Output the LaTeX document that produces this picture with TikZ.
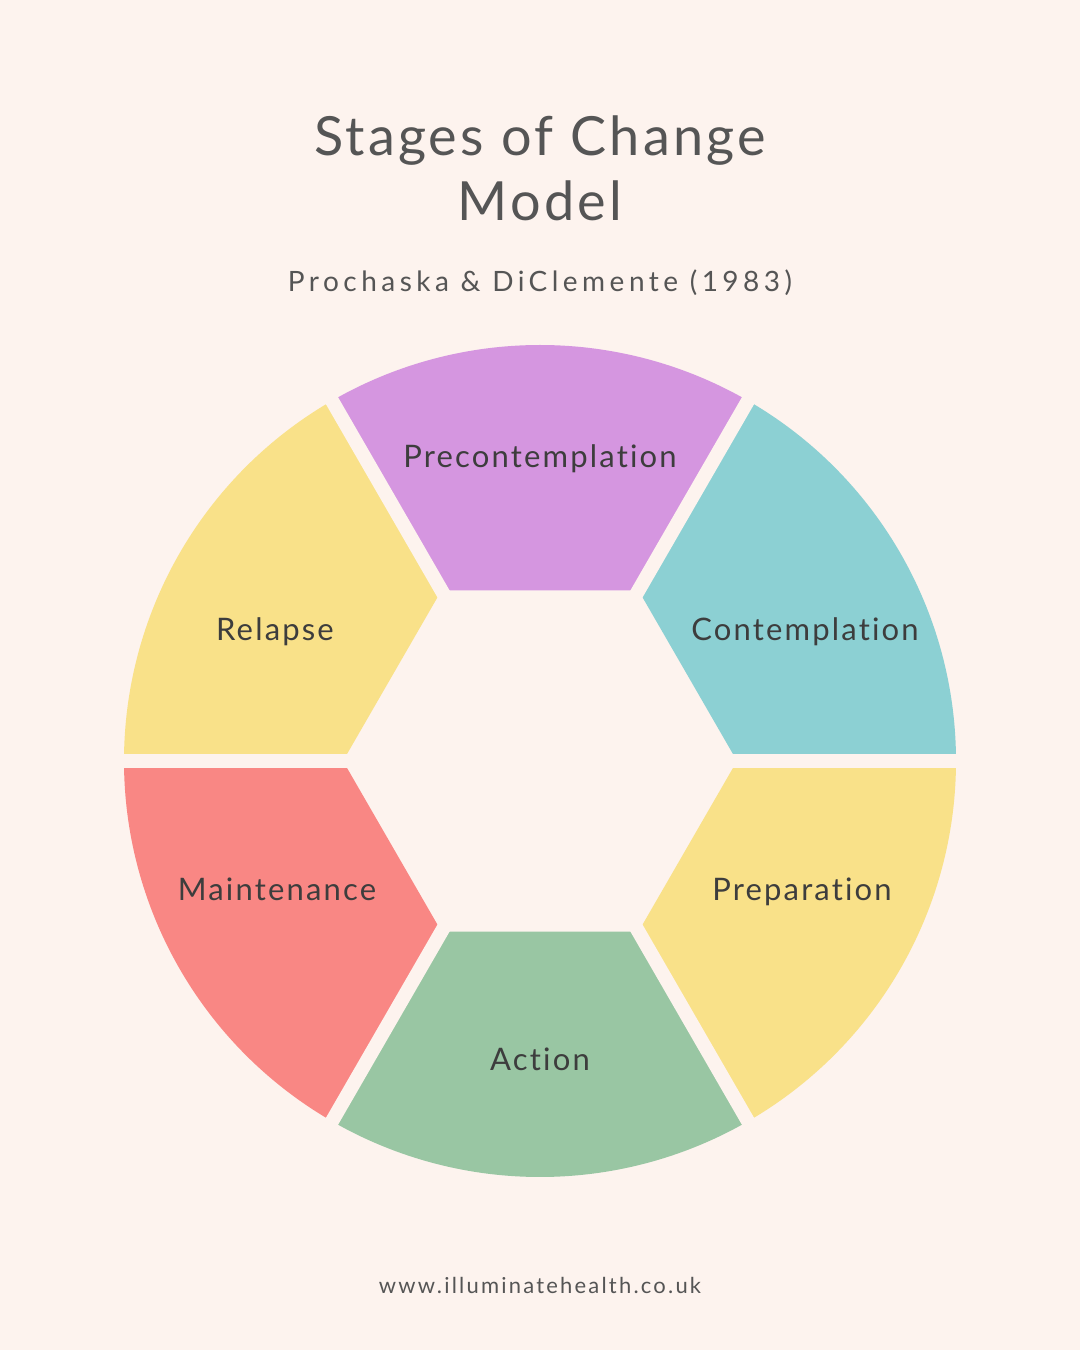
\documentclass[tikz,border=0pt]{standalone}
\usepackage{fontspec}
\usetikzlibrary{calc}
\setmainfont{Lato}
\newfontfamily\titlefont[LetterSpace=6,Ligatures={CommonOff,RareOff}]{Lato}
\newfontfamily\subfont[LetterSpace=16,Ligatures={CommonOff,RareOff}]{Lato}
\newfontfamily\webfont[LetterSpace=10,Ligatures={CommonOff,RareOff}]{Lato}
\newfontfamily\labfont[LetterSpace=7,Ligatures={CommonOff,RareOff}]{Lato}
\definecolor{bg}{HTML}{FDF3EE}
\definecolor{cpurple}{HTML}{D596E0}
\definecolor{cteal}{HTML}{8CD0D3}
\definecolor{cyellow}{HTML}{F9E189}
\definecolor{cred}{HTML}{F98784}
\definecolor{cgreen}{HTML}{99C6A3}
\definecolor{txt}{HTML}{3D3D3D}
\definecolor{ttl}{HTML}{555555}
\begin{document}
\begin{tikzpicture}[x=1pt,y=1pt,
  lab/.style={text=txt,font=\labfont\fontsize{31}{35}\selectfont,anchor=base,inner sep=0pt},
  ttlstyle/.style={text=ttl,font=\titlefont\fontsize{54}{60}\selectfont,anchor=base,inner sep=0pt},
  gapline/.style={draw=bg,line width=14pt}]
\fill[bg] (0,0) rectangle (1080,1350);
\useasboundingbox (0,0) rectangle (1080,1350);
\coordinate (c) at (540,589);
\def\rin{197}
\def\rout{416}
\foreach \a/\b/\col in {60/120/cpurple,0/60/cteal,-60/0/cyellow,240/300/cgreen,180/240/cred,120/180/cyellow}{
  \fill[\col] ($(c)+(\a:\rin)$) -- ($(c)+(\a:\rout)$) arc[start angle=\a,end angle=\b,radius=\rout] -- ($(c)+(\b:\rin)$) -- cycle;
}
\foreach \a in {0,60,...,300}{
  \draw[gapline] (c) -- ++(\a:430);
}
\node[lab] (pre) at (540,882) {Precontemplation};
\node[lab] (con) at (805,709) {Contemplation};
\node[lab] (rel) at (275,709) {Relapse};
\node[lab] (mai) at (277,449) {Maintenance};
\node[lab] (prep) at (802,449) {Preparation};
\node[lab] (act) at (540,279) {Action};
\node[ttlstyle] (t1) at (540,1194) {Stages of Change};
\node[ttlstyle] (t2) at (540,1129) {Model};
\node[text=ttl,font=\subfont\fontsize{28}{32}\selectfont,anchor=base,inner sep=0pt] (sub) at (540,1058) {Prochaska \& DiClemente (1983)};
\node[text=ttl,font=\webfont\fontsize{22}{26}\selectfont,anchor=base,inner sep=0pt] (web) at (540,56) {www.illuminatehealth.co.uk};
\end{tikzpicture}
\end{document}
